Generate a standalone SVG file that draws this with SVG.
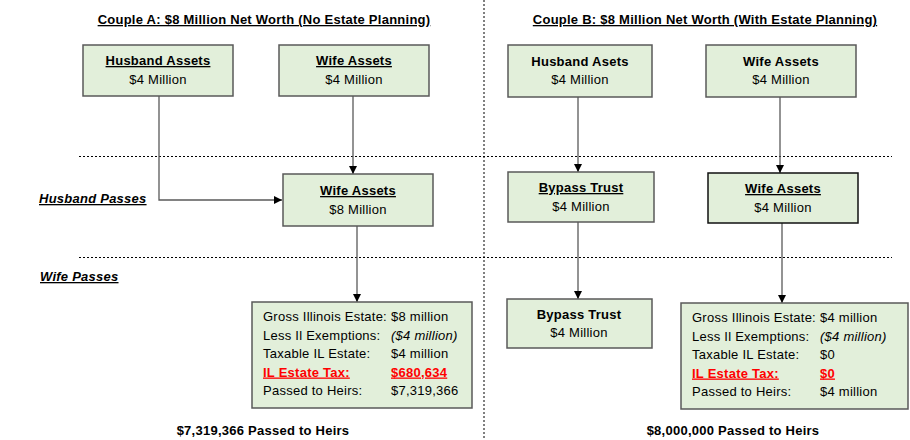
<svg xmlns="http://www.w3.org/2000/svg" width="910" height="440" viewBox="0 0 910 440">
<style>
text{font-family:"Liberation Sans",Arial,sans-serif;font-size:13px;fill:#000;letter-spacing:0.25px}
.b{font-weight:bold}
.u{text-decoration:underline}
.i{font-style:italic}
.r{fill:#ff0000}
.c{text-anchor:middle}
.box{fill:#e2efda;stroke:#595959;stroke-width:1.5}
.dk{stroke:#111}
.ln{fill:none;stroke:#595959;stroke-width:1.3}
.dot{fill:none;stroke:#000;stroke-width:1;stroke-dasharray:2,2}
</style>
<defs>
<marker id="ah" viewBox="0 0 10 10" refX="10" refY="5" markerWidth="8" markerHeight="8" markerUnits="userSpaceOnUse" orient="auto">
<path d="M0,0 L10,5 L0,10 z" fill="#000"/>
</marker>
</defs>
<rect width="910" height="440" fill="#fff"/>
<g id="guides">
<line class="dot" x1="484" y1="0" x2="484" y2="440"/>
<line class="dot" x1="79" y1="156.5" x2="892" y2="156.5"/>
<line class="dot" x1="79" y1="257.5" x2="892" y2="257.5"/>
</g>
<g id="labels">
<text class="b u c" x="264" y="24">Couple A: $8 Million Net Worth (No Estate Planning)</text>
<text class="b u c" x="705" y="24">Couple B: $8 Million Net Worth (With Estate Planning)</text>
<text class="b u i" x="39" y="203">Husband Passes</text>
<text class="b u i" x="40" y="281">Wife Passes</text>
<text class="b c" x="263" y="435">$7,319,366 Passed to Heirs</text>
<text class="b c" x="733" y="435">$8,000,000 Passed to Heirs</text>
</g>
<g id="connectors">
<polyline class="ln" points="159,96 159,200 282,200" marker-end="url(#ah)"/>
<line class="ln" x1="353" y1="96" x2="353" y2="174" marker-end="url(#ah)"/>
<line class="ln" x1="357" y1="226" x2="357" y2="302" marker-end="url(#ah)"/>
<line class="ln" x1="578" y1="97" x2="578" y2="172" marker-end="url(#ah)"/>
<line class="ln" x1="578" y1="222" x2="578" y2="299" marker-end="url(#ah)"/>
<line class="ln" x1="780" y1="97" x2="780" y2="173" marker-end="url(#ah)"/>
<line class="ln" x1="782" y1="223" x2="782" y2="303" marker-end="url(#ah)"/>
</g>
<g id="a-husband">
<rect class="box" x="83" y="45" width="150" height="51"/>
<text class="b u c" x="158" y="65">Husband Assets</text>
<text class="c" x="158" y="84">$4 Million</text>
</g>
<g id="a-wife">
<rect class="box" x="279" y="45" width="150" height="51"/>
<text class="b u c" x="354" y="65">Wife Assets</text>
<text class="c" x="354" y="84">$4 Million</text>
</g>
<g id="a-wife-8m">
<rect class="box" x="283" y="174" width="150" height="52"/>
<text class="b u c" x="358" y="195">Wife Assets</text>
<text class="c" x="358" y="214">$8 Million</text>
</g>
<g id="a-estate">
<rect class="box" x="252" y="302" width="220" height="106"/>
<text x="263" y="321">Gross Illinois Estate:</text><text x="391" y="321">$8 million</text>
<text x="263" y="339.5">Less Il Exemptions:</text><text class="i" x="391" y="339.5">($4 million)</text>
<text x="263" y="358">Taxable IL Estate:</text><text x="391" y="358">$4 million</text>
<text class="b u r" x="263" y="376.5">IL Estate Tax:</text><text class="b u r" x="391" y="376.5">$680,634</text>
<text x="263" y="395">Passed to Heirs:</text><text x="391" y="395">$7,319,366</text>
</g>
<g id="b-husband">
<rect class="box" x="508" y="45" width="144" height="52"/>
<text class="b c" x="580" y="66">Husband Asets</text>
<text class="c" x="580" y="84">$4 Million</text>
</g>
<g id="b-wife">
<rect class="box" x="706" y="45" width="150" height="52"/>
<text class="b c" x="781" y="66">Wife Assets</text>
<text class="c" x="781" y="84">$4 Million</text>
</g>
<g id="b-bypass1">
<rect class="box" x="508" y="172" width="146" height="50"/>
<text class="b u c" x="581" y="192">Bypass Trust</text>
<text class="c" x="581" y="211">$4 Million</text>
</g>
<g id="b-wife2">
<rect class="box dk" x="708" y="173" width="150" height="50"/>
<text class="b u c" x="783" y="193">Wife Assets</text>
<text class="c" x="783" y="212">$4 Million</text>
</g>
<g id="b-bypass2">
<rect class="box" x="507" y="299" width="145" height="49"/>
<text class="b c" x="579" y="319">Bypass Trust</text>
<text class="c" x="579" y="337">$4 Million</text>
</g>
<g id="b-estate">
<rect class="box" x="681" y="303" width="227" height="106"/>
<text x="692" y="322">Gross Illinois Estate:</text><text x="820" y="322">$4 million</text>
<text x="692" y="340.5">Less Il Exemptions:</text><text class="i" x="820" y="340.5">($4 million)</text>
<text x="692" y="359">Taxable IL Estate:</text><text x="820" y="359">$0</text>
<text class="b u r" x="692" y="377.5">IL Estate Tax:</text><text class="b u r" x="820" y="377.5">$0</text>
<text x="692" y="396">Passed to Heirs:</text><text x="820" y="396">$4 million</text>
</g>
</svg>
